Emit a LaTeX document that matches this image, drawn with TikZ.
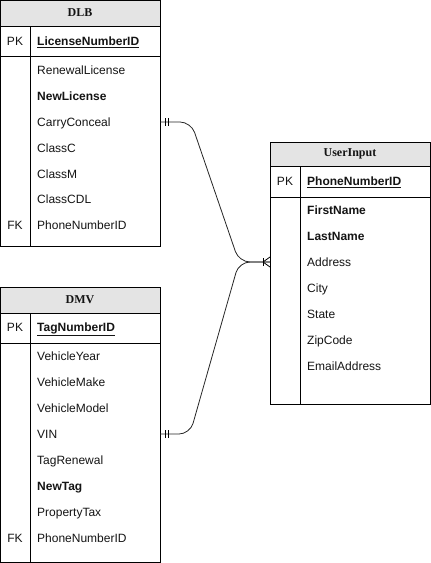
\documentclass[tikz,border=0pt]{standalone}
\usepackage{fontspec}
\setmainfont{Liberation Sans}
\newfontfamily\titlefont{Liberation Serif}
\definecolor{hdrgray}{RGB}{228,228,228}
\definecolor{txtcol}{RGB}{20,20,20}
\tikzset{
  tbl/.style={draw=black, line width=0.9pt},
  hdr/.style={draw=black, line width=0.9pt, fill=hdrgray},
  sep/.style={draw=black, line width=0.9pt},
  title/.style={font=\titlefont\bfseries\fontsize{12}{14}\selectfont, text=txtcol, inner sep=0pt},
  field/.style={anchor=west, font=\fontsize{12}{14}\selectfont, text=txtcol, inner sep=0pt, text height=9pt, text depth=0pt},
  keycol/.style={anchor=center, font=\fontsize{12}{14}\selectfont, text=txtcol, inner sep=0pt, text height=9pt, text depth=0pt},
  rel/.style={draw=black!85, line width=0.8pt},
  tick/.style={draw=black, line width=0.8pt}
}
\newcommand{\pkf}[1]{\textbf{\underline{#1}}}
\begin{document}
\begin{tikzpicture}[x=1pt,y=-1pt]
\useasboundingbox (0,0) rectangle (431,563);

% ---------- DLB ----------
\path[hdr] (0.5,0.5) rectangle (160,26);
\path[tbl] (0.5,26) rectangle (160,246);
\path[sep] (0.5,56) -- (160,56);
\path[sep] (30,26) -- (30,246);
\node[title] (dlbT) at (80,13) {DLB};
\node[keycol] (dlbPK) at (15,41) {PK};
\node[field] (dlbLic) at (37,41) {\pkf{LicenseNumberID}};
\node[field] (dlbRen) at (37,70) {RenewalLicense};
\node[field] (dlbNew) at (37,96) {\textbf{NewLicense}};
\node[field] (dlbCar) at (37,122) {CarryConceal};
\node[field] (dlbC) at (37,148) {ClassC};
\node[field] (dlbM) at (37,174) {ClassM};
\node[field] (dlbCDL) at (37,199) {ClassCDL};
\node[keycol] (dlbFK) at (15,225) {FK};
\node[field] (dlbPh) at (37,225) {PhoneNumberID};
\coordinate (dlbCC) at (160,122);

% ---------- DMV ----------
\path[hdr] (0.5,287) rectangle (160,313);
\path[tbl] (0.5,313) rectangle (160,562);
\path[sep] (0.5,343) -- (160,343);
\path[sep] (30,313) -- (30,562);
\node[title] (dmvT) at (80,300) {DMV};
\node[keycol] (dmvPK) at (15,327) {PK};
\node[field] (dmvTag) at (37,327) {\pkf{TagNumberID}};
\node[field] (dmvYr) at (37,356) {VehicleYear};
\node[field] (dmvMk) at (37,382) {VehicleMake};
\node[field] (dmvMd) at (37,408) {VehicleModel};
\node[field] (dmvVin) at (37,434) {VIN};
\node[field] (dmvTR) at (37,460) {TagRenewal};
\node[field] (dmvNT) at (37,486) {\textbf{NewTag}};
\node[field] (dmvPT) at (37,512) {PropertyTax};
\node[keycol] (dmvFK) at (15,538) {FK};
\node[field] (dmvPh) at (37,538) {PhoneNumberID};
\coordinate (dmvVIN) at (160,434);

% ---------- UserInput ----------
\path[hdr] (270,142) rectangle (430,166);
\path[tbl] (270,166) rectangle (430,404);
\path[sep] (270,197) -- (430,197);
\path[sep] (300,166) -- (300,404);
\node[title] (uiT) at (350,154) {UserInput};
\node[keycol] (uiPK) at (285,181) {PK};
\node[field] (uiPh) at (307,181) {\pkf{PhoneNumberID}};
\node[field] (uiFN) at (307,210) {\textbf{FirstName}};
\node[field] (uiLN) at (307,236) {\textbf{LastName}};
\node[field] (uiAd) at (307,262) {Address};
\node[field] (uiCi) at (307,288) {City};
\node[field] (uiSt) at (307,314) {State};
\node[field] (uiZi) at (307,340) {ZipCode};
\node[field] (uiEm) at (307,366) {EmailAddress};
\coordinate (uiAddr) at (270,262);

% ---------- relationships ----------
\draw[rel, rounded corners=11pt] (dlbCC) -- ++(31,0) -- ([xshift=-31pt]uiAddr) -- (uiAddr);
\draw[rel, rounded corners=11pt] (dmvVIN) -- ++(30,0) -- ([xshift=-31pt]uiAddr) -- (uiAddr);

% one-and-only-one ticks
\draw[tick] ([xshift=5pt,yshift=4pt]dlbCC) -- ([xshift=5pt,yshift=-4pt]dlbCC);
\draw[tick] ([xshift=8pt,yshift=4pt]dlbCC) -- ([xshift=8pt,yshift=-4pt]dlbCC);
\draw[tick] ([xshift=5pt,yshift=4pt]dmvVIN) -- ([xshift=5pt,yshift=-4pt]dmvVIN);
\draw[tick] ([xshift=8pt,yshift=4pt]dmvVIN) -- ([xshift=8pt,yshift=-4pt]dmvVIN);

% one-or-many crow's foot
\draw[tick] ([xshift=-7pt,yshift=4pt]uiAddr) -- ([xshift=-7pt,yshift=-4pt]uiAddr);
\draw[tick] ([xshift=-7pt]uiAddr) -- ([yshift=5pt]uiAddr);
\draw[tick] ([xshift=-7pt]uiAddr) -- ([yshift=-5pt]uiAddr);
\end{tikzpicture}
\end{document}
